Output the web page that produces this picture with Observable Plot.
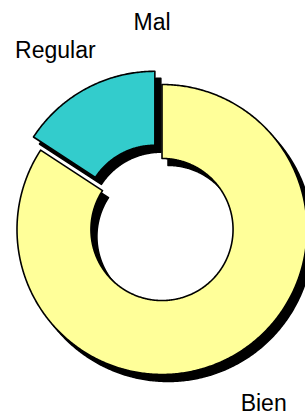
<!DOCTYPE html>
<html><head><meta charset="utf-8">
<script src="https://cdn.jsdelivr.net/npm/d3@7"></script>
<script src="https://cdn.jsdelivr.net/npm/@observablehq/plot@0.6"></script>
<style>html,body{margin:0;padding:0;background:#fff;overflow:hidden}</style>
</head><body><div id="chart"></div>
<script>
const categories = ["Bien", "Regular", "Mal"];
const values = [16, 3, 0];
const colors = ["#FFFF99", "#33CCCC", "#FFFFFF"];

const W = 305, H = 416, cx = 161.5, cy = 229, Rpx = 145;
const inner = 0.49, explodeDist = 15 / Rpx, labelR = 1.43;
const explodeIdx = 1;
const total = d3.sum(values);
let acc = 0;
const slices = categories.map((c, i) => {
  const a0 = acc / total * 2 * Math.PI;
  acc += values[i];
  const a1 = acc / total * 2 * Math.PI;
  const mid = (a0 + a1) / 2;
  const off = i === explodeIdx ? explodeDist : 0;
  const ox = off * Math.sin(mid), oy = off * Math.cos(mid);
  const pts = [];
  if (values[i] > 0) {
    const n = Math.max(4, Math.ceil((a1 - a0) / 0.01));
    for (let k = 0; k <= n; k++) { const a = a0 + (a1 - a0) * k / n; pts.push({x: ox + Math.sin(a), y: oy + Math.cos(a)}); }
    for (let k = n; k >= 0; k--) { const a = a0 + (a1 - a0) * k / n; pts.push({x: ox + inner * Math.sin(a), y: oy + inner * Math.cos(a)}); }
    pts.push(pts[0]);
  }
  return {category: c, color: colors[i], pts, mid, lx: labelR * Math.sin(mid), ly: labelR * Math.cos(mid)};
});
const nudge = {Bien: [3, -8], Regular: [-8, 3], Mal: [-10, 0]};

const marks = [];
slices.forEach(s => { if (s.pts.length) marks.push(Plot.line(s.pts, {x: "x", y: "y", fill: "black", stroke: "black", strokeWidth: 1.5, dx: 6, dy: 7})); });
slices.forEach(s => { if (s.pts.length) marks.push(Plot.line(s.pts, {x: "x", y: "y", fill: s.color, stroke: "black", strokeWidth: 1.6})); });
slices.forEach(s => marks.push(Plot.text([s], {x: "lx", y: "ly", text: "category", fontSize: 23, fill: "black", textAnchor: "middle", dx: nudge[s.category][0], dy: nudge[s.category][1]})));

const chart = Plot.plot({
  width: W, height: H, margin: 0,
  style: {fontFamily: "'Liberation Sans', Arial, sans-serif", background: "white"},
  x: {domain: [-cx / Rpx, (W - cx) / Rpx], axis: null},
  y: {domain: [-(H - cy) / Rpx, cy / Rpx], axis: null},
  marks
});
document.getElementById("chart").appendChild(chart);
</script></body></html>
